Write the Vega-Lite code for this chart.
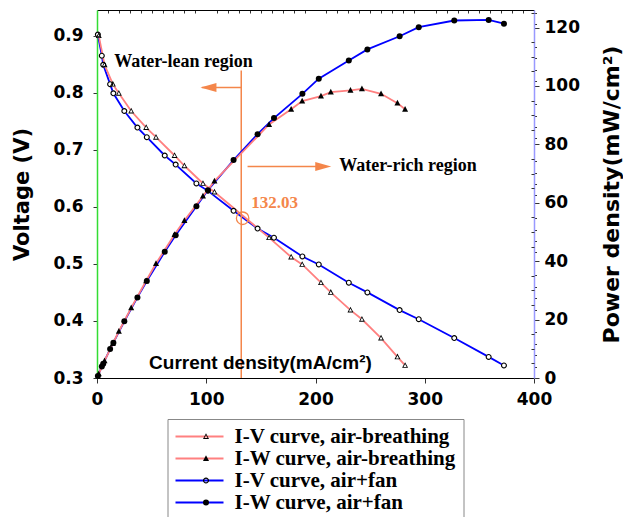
{
  "$schema": "https://vega.github.io/schema/vega-lite/v6.json",
  "width": 437,
  "height": 368,
  "autosize": "none",
  "padding": {"left": 97, "top": 10, "right": 89, "bottom": 139},
  "background": "white",
  "config": {
    "view": {"stroke": null},
    "axis": {
      "labelFont": "DejaVu Sans", "labelFontWeight": "bold", "labelFontSize": 17, "labelColor": "black",
      "tickColor": "#333", "grid": false,
      "titleFont": "DejaVu Sans", "titleFontWeight": "bold", "titleColor": "black"
    }
  },
  "datasets": {
    "iv": [
      {"s": "I-V curve, air+fan", "x": 0.8, "v": 0.902},
      {"s": "I-V curve, air+fan", "x": 4.4, "v": 0.865},
      {"s": "I-V curve, air+fan", "x": 5.7, "v": 0.849},
      {"s": "I-V curve, air+fan", "x": 12, "v": 0.815},
      {"s": "I-V curve, air+fan", "x": 15, "v": 0.799},
      {"s": "I-V curve, air+fan", "x": 25, "v": 0.768},
      {"s": "I-V curve, air+fan", "x": 37, "v": 0.739},
      {"s": "I-V curve, air+fan", "x": 45.6, "v": 0.722},
      {"s": "I-V curve, air+fan", "x": 62, "v": 0.690},
      {"s": "I-V curve, air+fan", "x": 72, "v": 0.674},
      {"s": "I-V curve, air+fan", "x": 91, "v": 0.641},
      {"s": "I-V curve, air+fan", "x": 101.5, "v": 0.628},
      {"s": "I-V curve, air+fan", "x": 125, "v": 0.593},
      {"s": "I-V curve, air+fan", "x": 147, "v": 0.562},
      {"s": "I-V curve, air+fan", "x": 162, "v": 0.546},
      {"s": "I-V curve, air+fan", "x": 188, "v": 0.513},
      {"s": "I-V curve, air+fan", "x": 203, "v": 0.499},
      {"s": "I-V curve, air+fan", "x": 230.5, "v": 0.467},
      {"s": "I-V curve, air+fan", "x": 247.5, "v": 0.450},
      {"s": "I-V curve, air+fan", "x": 277, "v": 0.419},
      {"s": "I-V curve, air+fan", "x": 294.5, "v": 0.403},
      {"s": "I-V curve, air+fan", "x": 327, "v": 0.370},
      {"s": "I-V curve, air+fan", "x": 358.5, "v": 0.337},
      {"s": "I-V curve, air+fan", "x": 372.5, "v": 0.322},
      {"s": "I-V curve, air-breathing", "x": 1.6, "v": 0.900},
      {"s": "I-V curve, air-breathing", "x": 6.9, "v": 0.849},
      {"s": "I-V curve, air-breathing", "x": 14.5, "v": 0.815},
      {"s": "I-V curve, air-breathing", "x": 20, "v": 0.799},
      {"s": "I-V curve, air-breathing", "x": 31.3, "v": 0.768},
      {"s": "I-V curve, air-breathing", "x": 45, "v": 0.739},
      {"s": "I-V curve, air-breathing", "x": 54, "v": 0.722},
      {"s": "I-V curve, air-breathing", "x": 71, "v": 0.690},
      {"s": "I-V curve, air-breathing", "x": 80, "v": 0.672},
      {"s": "I-V curve, air-breathing", "x": 97, "v": 0.641},
      {"s": "I-V curve, air-breathing", "x": 107.5, "v": 0.626},
      {"s": "I-V curve, air-breathing", "x": 157.5, "v": 0.546},
      {"s": "I-V curve, air-breathing", "x": 177.7, "v": 0.512},
      {"s": "I-V curve, air-breathing", "x": 187.8, "v": 0.499},
      {"s": "I-V curve, air-breathing", "x": 205, "v": 0.467},
      {"s": "I-V curve, air-breathing", "x": 214, "v": 0.450},
      {"s": "I-V curve, air-breathing", "x": 232, "v": 0.419},
      {"s": "I-V curve, air-breathing", "x": 242.5, "v": 0.403},
      {"s": "I-V curve, air-breathing", "x": 260, "v": 0.370},
      {"s": "I-V curve, air-breathing", "x": 275, "v": 0.337},
      {"s": "I-V curve, air-breathing", "x": 282, "v": 0.322}
    ],
    "iw": [
      {"s": "I-W curve, air+fan", "x": 0.8, "p": 0.7},
      {"s": "I-W curve, air+fan", "x": 4.4, "p": 3.9},
      {"s": "I-W curve, air+fan", "x": 5.7, "p": 4.9},
      {"s": "I-W curve, air+fan", "x": 12, "p": 9.9},
      {"s": "I-W curve, air+fan", "x": 15, "p": 12.1},
      {"s": "I-W curve, air+fan", "x": 25, "p": 19.4},
      {"s": "I-W curve, air+fan", "x": 37, "p": 27.6},
      {"s": "I-W curve, air+fan", "x": 45.6, "p": 33.2},
      {"s": "I-W curve, air+fan", "x": 62, "p": 43.2},
      {"s": "I-W curve, air+fan", "x": 72, "p": 48.9},
      {"s": "I-W curve, air+fan", "x": 91, "p": 58.8},
      {"s": "I-W curve, air+fan", "x": 101.5, "p": 64.3},
      {"s": "I-W curve, air+fan", "x": 125, "p": 74.6},
      {"s": "I-W curve, air+fan", "x": 147, "p": 83.5},
      {"s": "I-W curve, air+fan", "x": 162, "p": 89.0},
      {"s": "I-W curve, air+fan", "x": 188, "p": 97.3},
      {"s": "I-W curve, air+fan", "x": 203, "p": 102.5},
      {"s": "I-W curve, air+fan", "x": 230.5, "p": 108.7},
      {"s": "I-W curve, air+fan", "x": 247.5, "p": 112.5},
      {"s": "I-W curve, air+fan", "x": 277, "p": 117.0},
      {"s": "I-W curve, air+fan", "x": 294.5, "p": 120.1},
      {"s": "I-W curve, air+fan", "x": 327, "p": 122.4},
      {"s": "I-W curve, air+fan", "x": 358.5, "p": 122.6},
      {"s": "I-W curve, air+fan", "x": 372.5, "p": 121.3},
      {"s": "I-W curve, air-breathing", "x": 1.6, "p": 1.4},
      {"s": "I-W curve, air-breathing", "x": 6.9, "p": 5.9},
      {"s": "I-W curve, air-breathing", "x": 14.5, "p": 11.8},
      {"s": "I-W curve, air-breathing", "x": 20, "p": 16.0},
      {"s": "I-W curve, air-breathing", "x": 31.3, "p": 24.0},
      {"s": "I-W curve, air-breathing", "x": 45, "p": 33.3},
      {"s": "I-W curve, air-breathing", "x": 54, "p": 39.2},
      {"s": "I-W curve, air-breathing", "x": 71, "p": 49.1},
      {"s": "I-W curve, air-breathing", "x": 80, "p": 53.9},
      {"s": "I-W curve, air-breathing", "x": 97, "p": 62.3},
      {"s": "I-W curve, air-breathing", "x": 107.5, "p": 67.4},
      {"s": "I-W curve, air-breathing", "x": 157.5, "p": 86.8},
      {"s": "I-W curve, air-breathing", "x": 177.7, "p": 92.0},
      {"s": "I-W curve, air-breathing", "x": 187.8, "p": 94.8},
      {"s": "I-W curve, air-breathing", "x": 205, "p": 96.5},
      {"s": "I-W curve, air-breathing", "x": 214, "p": 97.9},
      {"s": "I-W curve, air-breathing", "x": 232, "p": 98.5},
      {"s": "I-W curve, air-breathing", "x": 242.5, "p": 99.0},
      {"s": "I-W curve, air-breathing", "x": 260, "p": 97.3},
      {"s": "I-W curve, air-breathing", "x": 275, "p": 94.1},
      {"s": "I-W curve, air-breathing", "x": 282, "p": 92.0}
    ]
  },
  "layer": [
    {
      "layer": [
        {
          "data": {"name": "iv"},
          "mark": {"type": "line", "strokeWidth": 1.8},
          "encoding": {
            "x": {"field": "x", "type": "quantitative", "scale": {"domain": [0, 400], "nice": false, "zero": false},
              "axis": {"values": [0, 100, 200, 300, 400], "tickSize": 5, "labelPadding": 8, "domainColor": "black", "title": null, "labelFlush": false}},
            "y": {"field": "v", "type": "quantitative", "scale": {"domain": [0.3, 0.945], "nice": false, "zero": false},
              "axis": {"values": [0.3, 0.4, 0.5, 0.6, 0.7, 0.8, 0.9], "format": ".1f", "tickSize": 4, "labelPadding": 10, "domainColor": "#33dd33", "domainWidth": 1.5, "title": "Voltage (V)", "titleFontSize": 21, "titlePadding": 20, "labelFlush": false}},
            "stroke": {"field": "s", "type": "nominal",
              "scale": {"domain": ["I-V curve, air-breathing", "I-W curve, air-breathing", "I-V curve, air+fan", "I-W curve, air+fan"], "range": ["#ff8080", "#ff8080", "#0000ff", "#0000ff"]},
              "legend": {"orient": "none", "legendX": 70.5, "legendY": 409, "title": null, "symbolType": "stroke", "symbolSize": 2304, "symbolStrokeWidth": 2, "clipHeight": 21, "labelFont": "Liberation Serif", "labelFontWeight": "bold", "labelFontSize": 21, "labelColor": "black", "labelOffset": 10, "labelLimit": 400, "rowPadding": 0, "padding": 7, "strokeColor": "#888", "fillColor": "white", "zindex": 1}}
          }
        },
        {
          "data": {"name": "iv"},
          "transform": [{"filter": "datum.s == 'I-V curve, air+fan'"}],
          "mark": {"type": "point", "shape": "circle", "filled": true, "size": 30, "color": "white", "strokeWidth": 0, "opacity": 1},
          "encoding": {
            "x": {"field": "x", "type": "quantitative", "scale": {"domain": [0, 400], "nice": false, "zero": false}, "axis": null},
            "y": {"field": "v", "type": "quantitative", "scale": {"domain": [0.3, 0.945], "nice": false, "zero": false}, "axis": null}
          }
        },
        {
          "data": {"name": "iv"},
          "transform": [{"filter": "datum.s == 'I-V curve, air-breathing'"}],
          "mark": {"type": "point", "shape": "M0,-1.1L1,0.8L-1,0.8Z", "filled": true, "size": 36, "color": "white", "strokeWidth": 0, "opacity": 1},
          "encoding": {
            "x": {"field": "x", "type": "quantitative", "scale": {"domain": [0, 400], "nice": false, "zero": false}, "axis": null},
            "y": {"field": "v", "type": "quantitative", "scale": {"domain": [0.3, 0.945], "nice": false, "zero": false}, "axis": null}
          }
        },
        {
          "data": {"name": "iv"},
          "mark": {"type": "point", "filled": true, "size": 36, "color": "black", "strokeWidth": 0, "opacity": 1},
          "encoding": {
            "x": {"field": "x", "type": "quantitative", "scale": {"domain": [0, 400], "nice": false, "zero": false},
              "axis": {"values": [10, 20, 30, 40, 50, 60, 70, 80, 90, 110, 120, 130, 140, 150, 160, 170, 180, 190, 210, 220, 230, 240, 250, 260, 270, 280, 290, 310, 320, 330, 340, 350, 360, 370, 380, 390], "tickSize": -3, "labels": false, "domain": false, "title": null}},
            "y": {"field": "v", "type": "quantitative", "scale": {"domain": [0.3, 0.945], "nice": false, "zero": false},
              "axis": {"values": [0.32, 0.34, 0.36, 0.38, 0.42, 0.44, 0.46, 0.48, 0.52, 0.54, 0.56, 0.58, 0.62, 0.64, 0.66, 0.68, 0.72, 0.74, 0.76, 0.78, 0.82, 0.84, 0.86, 0.88, 0.92, 0.94], "tickSize": 2.5, "labels": false, "domain": false, "title": null}},
            "shape": {"field": "s", "type": "nominal",
              "scale": {"domain": ["I-W curve, air+fan", "I-V curve, air+fan", "I-W curve, air-breathing", "I-V curve, air-breathing"],
                "range": ["circle", "M1,0A1,1,0,1,1,-1,0A1,1,0,1,1,1,0ZM0.62,0A0.62,0.62,0,1,0,-0.62,0A0.62,0.62,0,1,0,0.62,0Z", "M0,-1.1L1,0.8L-1,0.8Z", "M0,-1.1L1,0.8L-1,0.8ZM0,-0.5L-0.52,0.5L0.52,0.5Z"]},
              "legend": {"orient": "none", "legendX": 91.5, "legendY": 409, "title": null, "values": ["I-V curve, air-breathing", "I-W curve, air-breathing", "I-V curve, air+fan", "I-W curve, air+fan"], "symbolSize": 36, "symbolFillColor": "black", "symbolStrokeWidth": 0, "clipHeight": 21, "labelExpr": "''", "labelFontSize": 21, "labelOffset": 10, "rowPadding": 0, "padding": 7, "zindex": 2}}
          }
        },
        {
          "data": {"values": [
            {"x": 132.03, "x2": 132.03, "y": 0.3, "y2": 0.839},
            {"x": 96, "x2": 132.03, "y": 0.809, "y2": 0.809},
            {"x": 137.8, "x2": 207, "y": 0.6708, "y2": 0.6708}
          ]},
          "mark": {"type": "rule", "color": "#f4864a", "strokeWidth": 1.5},
          "encoding": {
            "x": {"field": "x", "type": "quantitative", "scale": {"domain": [0, 400], "nice": false, "zero": false}, "axis": null},
            "x2": {"field": "x2"},
            "y": {"field": "y", "type": "quantitative", "scale": {"domain": [0.3, 0.945], "nice": false, "zero": false}, "axis": null},
            "y2": {"field": "y2"}
          }
        },
        {
          "data": {"values": [{"x": 94.7, "y": 0.809}]},
          "mark": {"type": "point", "shape": "M0,0L2,-0.56L2,0.56Z", "size": 256, "filled": true, "color": "#f4864a", "opacity": 1},
          "encoding": {
            "x": {"field": "x", "type": "quantitative", "scale": {"domain": [0, 400], "nice": false, "zero": false}, "axis": null},
            "y": {"field": "y", "type": "quantitative", "scale": {"domain": [0.3, 0.945], "nice": false, "zero": false}, "axis": null}
          }
        },
        {
          "data": {"values": [{"x": 214.4, "y": 0.6708}]},
          "mark": {"type": "point", "shape": "M0,0L-2,-0.56L-2,0.56Z", "size": 256, "filled": true, "color": "#f4864a", "opacity": 1},
          "encoding": {
            "x": {"field": "x", "type": "quantitative", "scale": {"domain": [0, 400], "nice": false, "zero": false}, "axis": null},
            "y": {"field": "y", "type": "quantitative", "scale": {"domain": [0.3, 0.945], "nice": false, "zero": false}, "axis": null}
          }
        },
        {
          "data": {"values": [{"x": 133.3, "y": 0.58}]},
          "mark": {"type": "point", "shape": "circle", "size": 156, "filled": false, "stroke": "#f4864a", "strokeWidth": 1.3, "opacity": 1},
          "encoding": {
            "x": {"field": "x", "type": "quantitative", "scale": {"domain": [0, 400], "nice": false, "zero": false}, "axis": null},
            "y": {"field": "y", "type": "quantitative", "scale": {"domain": [0.3, 0.945], "nice": false, "zero": false}, "axis": null}
          }
        },
        {
          "data": {"values": [
            {"x": 79.2, "y": 0.8457, "t": "Water-lean region"},
            {"x": 284.7, "y": 0.662, "t": "Water-rich region"}
          ]},
          "mark": {"type": "text", "font": "Liberation Serif", "fontWeight": "bold", "fontSize": 18, "color": "black", "align": "center", "baseline": "alphabetic"},
          "encoding": {
            "x": {"field": "x", "type": "quantitative", "scale": {"domain": [0, 400], "nice": false, "zero": false}, "axis": null},
            "y": {"field": "y", "type": "quantitative", "scale": {"domain": [0.3, 0.945], "nice": false, "zero": false}, "axis": null},
            "text": {"field": "t"}
          }
        },
        {
          "data": {"values": [{"x": 162.5, "y": 0.5986, "t": "132.03"}]},
          "mark": {"type": "text", "font": "Liberation Serif", "fontWeight": "bold", "fontSize": 17, "color": "#f4864a", "align": "center", "baseline": "alphabetic"},
          "encoding": {
            "x": {"field": "x", "type": "quantitative", "scale": {"domain": [0, 400], "nice": false, "zero": false}, "axis": null},
            "y": {"field": "y", "type": "quantitative", "scale": {"domain": [0.3, 0.945], "nice": false, "zero": false}, "axis": null},
            "text": {"field": "t"}
          }
        },
        {
          "data": {"values": [{"x": 149.6, "y": 0.3152, "t": "Current density(mA/cm²)"}]},
          "mark": {"type": "text", "font": "Liberation Sans", "fontWeight": "bold", "fontSize": 19, "color": "black", "align": "center", "baseline": "alphabetic"},
          "encoding": {
            "x": {"field": "x", "type": "quantitative", "scale": {"domain": [0, 400], "nice": false, "zero": false}, "axis": null},
            "y": {"field": "y", "type": "quantitative", "scale": {"domain": [0.3, 0.945], "nice": false, "zero": false}, "axis": null},
            "text": {"field": "t"}
          }
        }
      ],
      "resolve": {"axis": {"x": "independent", "y": "independent"}}
    },
    {
      "layer": [
        {
          "data": {"name": "iw"},
          "mark": {"type": "line", "strokeWidth": 1.8},
          "encoding": {
            "x": {"field": "x", "type": "quantitative", "scale": {"domain": [0, 400], "nice": false, "zero": false},
              "axis": {"orient": "top", "ticks": false, "labels": false, "domainColor": "black", "title": null}},
            "y": {"field": "p", "type": "quantitative", "scale": {"domain": [0, 126], "nice": false, "zero": false},
              "axis": {"orient": "right", "values": [0, 20, 40, 60, 80, 100, 120], "tickSize": 5, "labelPadding": 5, "domainColor": "#9999ff", "domainWidth": 1.5, "title": "Power density(mW/cm²)", "titleAngle": 270, "titleBaseline": "top", "titleFontSize": 22, "titlePadding": 22, "labelFlush": false}},
            "stroke": {"field": "s", "type": "nominal",
              "scale": {"domain": ["I-V curve, air-breathing", "I-W curve, air-breathing", "I-V curve, air+fan", "I-W curve, air+fan"], "range": ["#ff8080", "#ff8080", "#0000ff", "#0000ff"]},
              "legend": {"orient": "none", "legendX": 70.5, "legendY": 409, "title": null, "symbolType": "stroke", "symbolSize": 2304, "symbolStrokeWidth": 2, "clipHeight": 21, "labelFont": "Liberation Serif", "labelFontWeight": "bold", "labelFontSize": 21, "labelColor": "black", "labelOffset": 10, "labelLimit": 400, "rowPadding": 0, "padding": 7, "strokeColor": "#888", "fillColor": "white", "zindex": 1}}
          }
        },
        {
          "data": {"name": "iw"},
          "mark": {"type": "point", "filled": true, "size": 36, "color": "black", "strokeWidth": 0, "opacity": 1},
          "encoding": {
            "x": {"field": "x", "type": "quantitative", "scale": {"domain": [0, 400], "nice": false, "zero": false}, "axis": null},
            "y": {"field": "p", "type": "quantitative", "scale": {"domain": [0, 126], "nice": false, "zero": false},
              "axis": {"orient": "right", "values": [5, 10, 15, 25, 30, 35, 45, 50, 55, 65, 70, 75, 85, 90, 95, 105, 110, 115, 125], "tickSize": -3, "labels": false, "domain": false, "title": null}},
            "shape": {"field": "s", "type": "nominal",
              "scale": {"domain": ["I-W curve, air+fan", "I-V curve, air+fan", "I-W curve, air-breathing", "I-V curve, air-breathing"],
                "range": ["circle", "M1,0A1,1,0,1,1,-1,0A1,1,0,1,1,1,0ZM0.62,0A0.62,0.62,0,1,0,-0.62,0A0.62,0.62,0,1,0,0.62,0Z", "M0,-1.1L1,0.8L-1,0.8Z", "M0,-1.1L1,0.8L-1,0.8ZM0,-0.5L-0.52,0.5L0.52,0.5Z"]},
              "legend": {"orient": "none", "legendX": 91.5, "legendY": 409, "title": null, "values": ["I-V curve, air-breathing", "I-W curve, air-breathing", "I-V curve, air+fan", "I-W curve, air+fan"], "symbolSize": 36, "symbolFillColor": "black", "symbolStrokeWidth": 0, "clipHeight": 21, "labelExpr": "''", "labelFontSize": 21, "labelOffset": 10, "rowPadding": 0, "padding": 7, "zindex": 2}}
          }
        }
      ],
      "resolve": {"axis": {"x": "independent", "y": "independent"}}
    }
  ],
  "resolve": {"scale": {"y": "independent"}, "axis": {"x": "independent", "y": "independent"}}
}
